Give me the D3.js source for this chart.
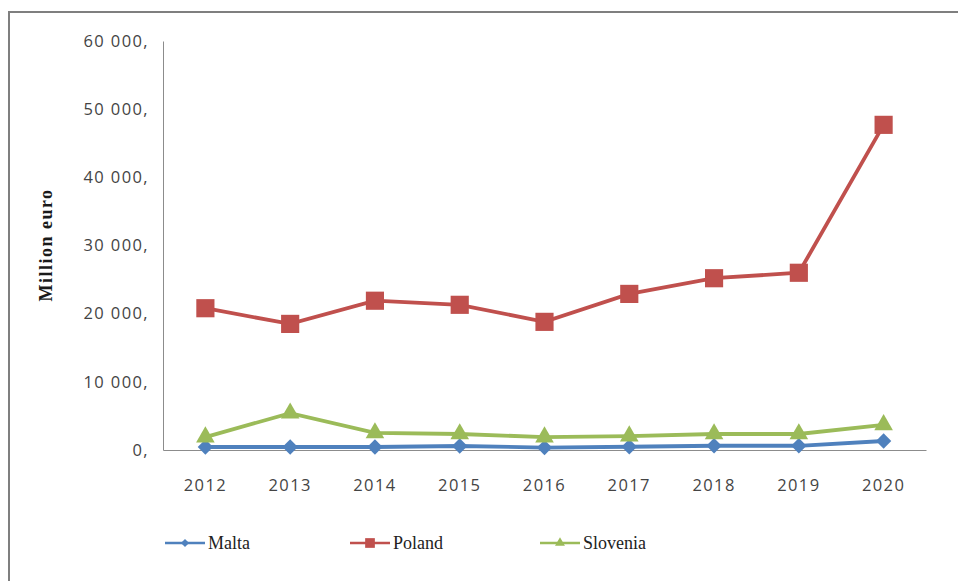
<!DOCTYPE html>
<html>
<head>
<meta charset="utf-8">
<script src="https://cdn.jsdelivr.net/npm/d3@7"></script>
<style>
  body { margin: 0; background: #fff; }
  .tick text { fill: #444; font-family: "Open Sans", sans-serif; font-size: 16.5px; letter-spacing: 1.4px; }
</style>
</head>
<body>
<svg id="chart"></svg>
<script>
// Data
const years = ["2012", "2013", "2014", "2015", "2016", "2017", "2018", "2019", "2020"];
const malta = [440, 440, 440, 590, 350, 480, 620, 620, 1320];
const poland = [20800, 18500, 21900, 21300, 18800, 22900, 25200, 26000, 47700];
const slovenia = [1900, 5400, 2500, 2350, 1900, 2050, 2350, 2350, 3700];
const yTicks = [0, 10000, 20000, 30000, 40000, 50000, 60000];

const series = [
  { name: "Malta", values: malta, color: "#4F81BD", shape: d3.symbolDiamond2, size: 150 },
  { name: "Poland", values: poland, color: "#C0504D", shape: d3.symbolSquare, size: 330 },
  { name: "Slovenia", values: slovenia, color: "#9BBB59", shape: d3.symbolTriangle, size: 150 },
];

const width = 958;
const height = 581;
const margin = { top: 41, right: 32, bottom: 131, left: 163 };
const innerWidth = width - margin.left - margin.right;
const innerHeight = height - margin.top - margin.bottom;

const svg = d3.select("#chart").attr("width", width).attr("height", height);

// outer frame: only top and left edges show in the image
svg.append("path")
  .attr("d", `M9,${height}V12H${width}`)
  .attr("fill", "none").attr("stroke", "#7f7f7f").attr("stroke-width", 2);

const g = svg.append("g").attr("transform", `translate(${margin.left},${margin.top})`);

// Scales
const x = d3.scaleBand().domain(years).range([0, innerWidth]);
const y = d3.scaleLinear().domain([0, 60000]).range([innerHeight, 0]);

const fmt = (v) => d3.format(",")(v).replace(/,/g, " ") + ",";

// Axes
g.append("g")
  .call(d3.axisLeft(y).tickValues(yTicks).tickFormat(fmt).tickSize(0).tickPadding(14))
  .call((s) => s.select(".domain").attr("stroke", "#8c8c8c"));

g.append("g")
  .attr("transform", `translate(0,${innerHeight})`)
  .call(d3.axisBottom(x).tickSize(0).tickPadding(29))
  .call((s) => s.select(".domain").attr("stroke", "#8c8c8c"));

// y label
svg.append("text")
  .attr("transform", "translate(52,245) rotate(-90)")
  .attr("text-anchor", "middle")
  .attr("font-family", "Liberation Serif, serif")
  .attr("font-weight", "bold")
  .attr("font-size", 18)
  .attr("letter-spacing", 1.5)
  .attr("fill", "#1a1a1a")
  .text("Million euro");

const cx = (i) => x(years[i]) + x.bandwidth() / 2;

const line = d3.line()
  .x((d, i) => cx(i))
  .y((d) => y(d));

// Lines and markers
series.forEach((s) => {
  g.append("path")
    .attr("d", line(s.values))
    .attr("fill", "none")
    .attr("stroke", s.color)
    .attr("stroke-width", 3.8);

  g.selectAll(null)
    .data(s.values)
    .join("path")
    .attr("transform", (d, i) => `translate(${cx(i)},${y(d)})`)
    .attr("d", d3.symbol().type(s.shape).size(s.size))
    .attr("fill", s.color);
});

// Legend
const legendX = [165, 350, 540];
const legend = svg.selectAll(".legend")
  .data(series)
  .join("g")
  .attr("class", "legend")
  .attr("transform", (d, i) => `translate(${legendX[i]},543)`);

legend.append("line")
  .attr("x1", 0).attr("x2", 40)
  .attr("stroke", (d) => d.color)
  .attr("stroke-width", 2.5);

legend.append("path")
  .attr("transform", "translate(20,0)")
  .attr("d", (d) => d3.symbol().type(d.shape).size(d.size / 3.5)())
  .attr("fill", (d) => d.color);

legend.append("text")
  .attr("x", 43)
  .attr("dy", "0.35em")
  .attr("font-family", "Liberation Serif, serif")
  .attr("font-size", 18)
  .attr("fill", "#222")
  .text((d) => d.name);
</script>
</body>
</html>
